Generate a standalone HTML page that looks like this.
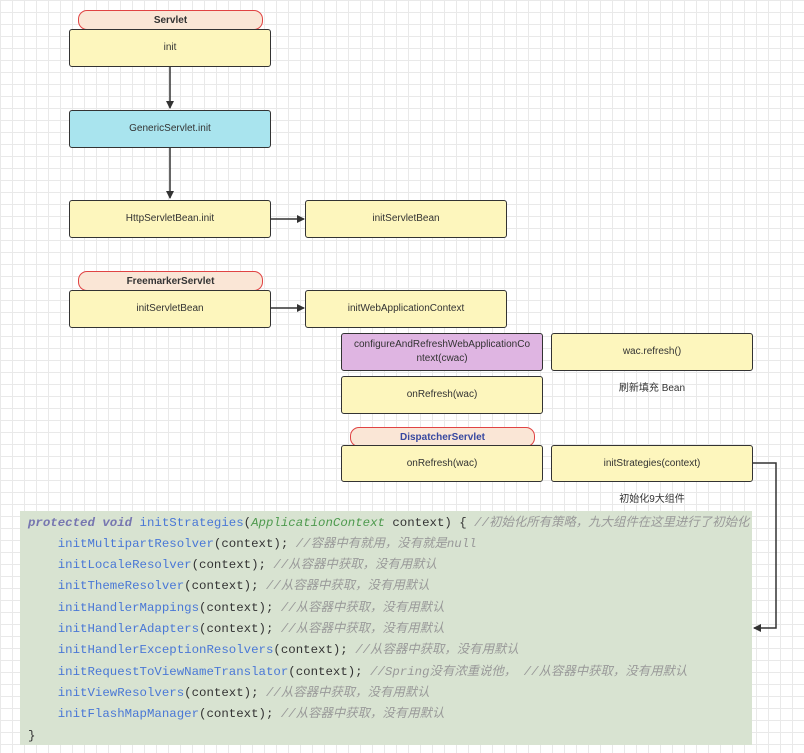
<!DOCTYPE html>
<html><head><meta charset="utf-8"><style>
body{margin:0;width:804px;height:753px;position:relative;overflow:hidden;background-color:#fff;
background-image:linear-gradient(#e9e9e9 1px,transparent 1px),linear-gradient(90deg,#e9e9e9 1px,transparent 1px);
background-size:12px 12px;font-family:"Liberation Sans","Noto Sans CJK SC",sans-serif;}
.b{position:absolute;box-sizing:border-box;border:1.5px solid #333;border-radius:3px;background:#fdf6bd;
display:flex;align-items:center;justify-content:center;text-align:center;font-size:10px;color:#333;line-height:14px;}
.t{position:absolute;box-sizing:border-box;border:1.5px solid #e04343;border-radius:9px;background:#fae6d6;
display:flex;align-items:center;justify-content:center;font-size:10px;font-weight:bold;color:#333;}
.l{position:absolute;font-size:10px;color:#333;text-align:center;width:202px;}
.code{position:absolute;left:20px;top:511px;width:732px;height:234px;background:#d8e3d1;
font-family:"Liberation Mono","Noto Sans CJK SC",monospace;font-size:12.4px;color:#333;}
.code div{position:absolute;left:8px;white-space:pre;height:21px;line-height:21px;}
.m{color:#4a78d6}.k{color:#7676b0;font-style:italic;font-weight:bold}.g{color:#4e9a4e;font-style:italic}.c{color:#999;font-style:italic}
</style></head><body>
<svg width="804" height="753" style="position:absolute;left:0;top:0">
<defs><marker id="a" markerWidth="8" markerHeight="8" refX="7" refY="4" orient="auto" markerUnits="userSpaceOnUse"><path d="M0,0 L8,4 L0,8 Z" fill="#333"/></marker></defs>
<g stroke="#333" stroke-width="1.5" fill="none">
<line x1="170" y1="67" x2="170" y2="108" marker-end="url(#a)"/>
<line x1="170" y1="147" x2="170" y2="198" marker-end="url(#a)"/>
<line x1="271" y1="219" x2="304" y2="219" marker-end="url(#a)"/>
<line x1="271" y1="308" x2="304" y2="308" marker-end="url(#a)"/>
<polyline points="753,463 776,463 776,628 754,628" marker-end="url(#a)"/>
</g></svg>
<div class="t" style="left:78px;top:10px;width:185px;height:20px">Servlet</div>
<div class="b" style="left:69px;top:29px;width:202px;height:38px">init</div>
<div class="b" style="left:69px;top:110px;width:202px;height:38px;background:#a9e4ee">GenericServlet.init</div>
<div class="b" style="left:69px;top:200px;width:202px;height:38px">HttpServletBean.init</div>
<div class="b" style="left:305px;top:200px;width:202px;height:38px">initServletBean</div>
<div class="t" style="left:78px;top:271px;width:185px;height:20px">FreemarkerServlet</div>
<div class="b" style="left:69px;top:290px;width:202px;height:38px">initServletBean</div>
<div class="b" style="left:305px;top:290px;width:202px;height:38px">initWebApplicationContext</div>
<div class="b" style="left:341px;top:333px;width:202px;height:38px;background:#dfb5e2">configureAndRefreshWebApplicationCo<br>ntext(cwac)</div>
<div class="b" style="left:551px;top:333px;width:202px;height:38px">wac.refresh()</div>
<div class="l" style="left:551px;top:379px">刷新填充 Bean</div>
<div class="b" style="left:341px;top:376px;width:202px;height:38px">onRefresh(wac)</div>
<div class="t" style="left:350px;top:427px;width:185px;height:20px;color:#3848a0">DispatcherServlet</div>
<div class="b" style="left:341px;top:445px;width:202px;height:37px">onRefresh(wac)</div>
<div class="b" style="left:551px;top:445px;width:202px;height:37px">initStrategies(context)</div>
<div class="l" style="left:551px;top:490px">初始化9大组件</div>
<div class="code">
<div style="top:2px"><span class="k">protected void</span> <span class="m">initStrategies</span>(<span class="g">ApplicationContext</span> context) { <span class="c">//初始化所有策略，九大组件在这里进行了初始化</span></div>
<div style="top:23px">    <span class="m">initMultipartResolver</span>(context); <span class="c">//容器中有就用，没有就是null</span></div>
<div style="top:44px">    <span class="m">initLocaleResolver</span>(context); <span class="c">//从容器中获取，没有用默认</span></div>
<div style="top:65px">    <span class="m">initThemeResolver</span>(context); <span class="c">//从容器中获取，没有用默认</span></div>
<div style="top:87px">    <span class="m">initHandlerMappings</span>(context); <span class="c">//从容器中获取，没有用默认</span></div>
<div style="top:108px">    <span class="m">initHandlerAdapters</span>(context); <span class="c">//从容器中获取，没有用默认</span></div>
<div style="top:129px">    <span class="m">initHandlerExceptionResolvers</span>(context); <span class="c">//从容器中获取，没有用默认</span></div>
<div style="top:151px">    <span class="m">initRequestToViewNameTranslator</span>(context); <span class="c">//Spring没有浓重说他， //从容器中获取，没有用默认</span></div>
<div style="top:172px">    <span class="m">initViewResolvers</span>(context); <span class="c">//从容器中获取，没有用默认</span></div>
<div style="top:193px">    <span class="m">initFlashMapManager</span>(context); <span class="c">//从容器中获取，没有用默认</span></div>
<div style="top:215px">}</div>
</div>
</body></html>
